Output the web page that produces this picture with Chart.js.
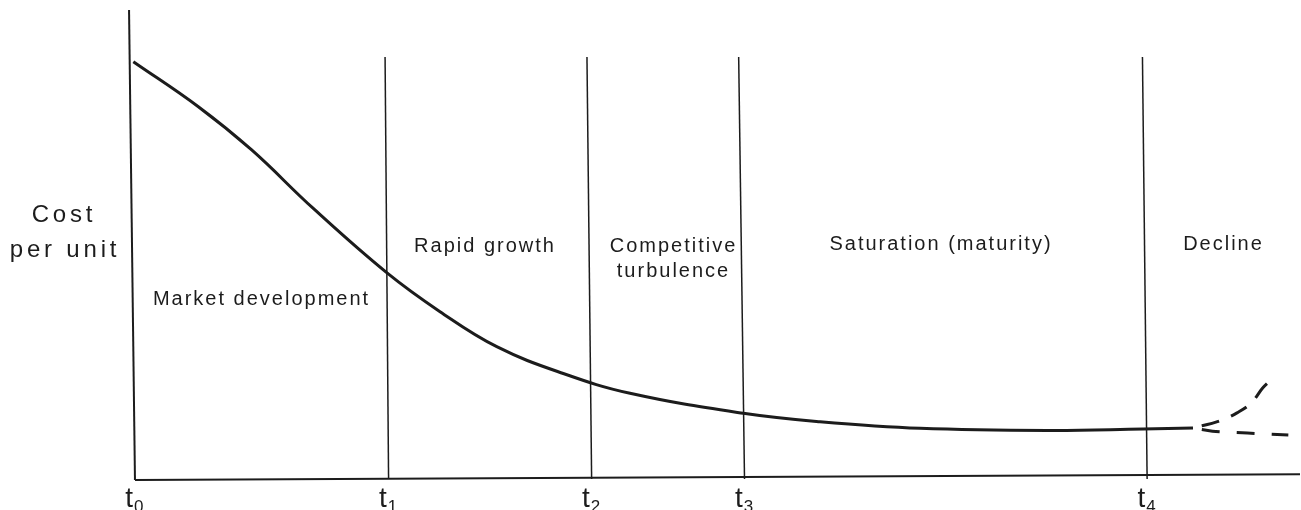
<!DOCTYPE html>
<html>
<head>
<meta charset="utf-8">
<script src="https://cdn.jsdelivr.net/npm/chart.js@4.4.1/dist/chart.umd.min.js"></script>
<style>
  html, body { margin: 0; padding: 0; background: #fff; }
  canvas { display: block; }
</style>
</head>
<body>
<canvas id="c" width="1301" height="510"></canvas>
<script>
// ---- data ----
const phaseNames = ['Market development', 'Rapid growth', 'Competitive\nturbulence', 'Saturation (maturity)', 'Decline'];
const tickLabels = ['0', '1', '2', '3', '4'];
const tickValues = [0.15, 21.9, 39.3, 52.4, 86.9];
const boundaryTopX = [21.6, 38.9, 51.9, 86.5];
const boundaryBottomX = [21.9, 39.3, 52.4, 86.9];
const boundaryTopY = 90;
const yAxisLabel = ['Cost', 'per unit'];

const costX = [0.03, 5.60, 10.17, 15.45, 21.74, 26.31, 31.17, 36.87, 42.59, 52.30, 58.87, 67.44, 78.58, 86.55, 90.83];
const costY = [88.98, 79.38, 70.15, 57.68, 43.99, 35.67, 28.21, 22.49, 18.27, 14.01, 12.22, 10.81, 10.34, 10.66, 10.87];
const riseX = [90.83, 93.15, 94.6, 95.9, 96.8, 97.5];
const riseY = [10.87, 12.4, 14.1, 16.4, 19.4, 21.1];
const fallX = [90.83, 92.5, 95.5, 99.0];
const fallY = [10.87, 10.2, 9.8, 9.4];

const zip = (xs, ys) => xs.map((x, i) => ({ x, y: ys[i] }));
const ink = '#1c1c1c';

const datasets = [];
// axes drawn as lines (the scan is slightly rotated)
datasets.push({ data: [{ x: -0.34, y: 100 }, { x: 0.17, y: -0.2 }], borderWidth: 2 });
datasets.push({ data: [{ x: 0.17, y: -0.2 }, { x: 100, y: 1.0 }], borderWidth: 2 });
boundaryTopX.forEach((tx, i) => {
  datasets.push({ data: [{ x: tx, y: boundaryTopY }, { x: boundaryBottomX[i], y: 0 }], borderWidth: 1.5 });
});
datasets.push({ data: zip(costX, costY), borderWidth: 3, tension: 0.4 });
datasets.push({ data: zip(riseX, riseY), borderWidth: 3, cubicInterpolationMode: 'monotone', borderDash: [18, 13], borderDashOffset: 22 });
datasets.push({ data: zip(fallX, fallY), borderWidth: 3, tension: 0.3, borderDash: [18, 17], borderDashOffset: 26 });
datasets.forEach(d => {
  d.borderColor = ink; d.pointRadius = 0; d.showLine = true; d.clip = false; d.fill = false;
  if (d.tension === undefined) d.tension = 0;
});

// label anchors (layout only): centre x and baseline y in pixels
const phaseLayout = [
  { x: 261.5, y: 305, lh: 0 },
  { x: 485, y: 252, lh: 0 },
  { x: 673.5, y: 252, lh: 25 },
  { x: 941, y: 250, lh: 0 },
  { x: 1223.5, y: 250, lh: 0 }
];

const FONT = '"Liberation Sans", Arial, Helvetica, sans-serif';
const textPlugin = {
  id: 'texts',
  afterDatasetsDraw(chart) {
    const ctx = chart.ctx;
    const xs = chart.scales.x;
    ctx.save();
    ctx.fillStyle = ink;
    ctx.textAlign = 'center';
    ctx.textBaseline = 'alphabetic';
    // y-axis title
    ctx.font = '24px ' + FONT;
    if ('letterSpacing' in ctx) ctx.letterSpacing = '3.8px';
    ctx.fillText(yAxisLabel[0], 64, 222);
    ctx.fillText(yAxisLabel[1], 65, 257);
    // phase names
    ctx.font = '20px ' + FONT;
    if ('letterSpacing' in ctx) ctx.letterSpacing = '2px';
    phaseNames.forEach((name, i) => {
      const lay = phaseLayout[i];
      name.split('\n').forEach((line, j) => {
        ctx.fillText(line, lay.x, lay.y + j * lay.lh);
      });
    });
    // tick labels: t with subscript
    if ('letterSpacing' in ctx) ctx.letterSpacing = '0px';
    ctx.textAlign = 'left';
    tickLabels.forEach((sub, i) => {
      const px = xs.getPixelForValue(tickValues[i]);
      ctx.font = '28px ' + FONT;
      const wt = ctx.measureText('t').width;
      ctx.font = '17px ' + FONT;
      const ws = ctx.measureText(sub).width;
      const left = px - (wt + ws) / 2 - 1;
      ctx.font = '28px ' + FONT;
      ctx.fillText('t', left, 507);
      ctx.font = '17px ' + FONT;
      ctx.fillText(sub, left + wt + 1, 512);
    });
    ctx.restore();
  }
};

new Chart(document.getElementById('c'), {
  type: 'scatter',
  data: { datasets },
  options: {
    responsive: false,
    devicePixelRatio: 1,
    animation: false,
    events: [],
    layout: { padding: { left: 133, right: 1, top: 10, bottom: 31 } },
    plugins: { legend: { display: false }, tooltip: { enabled: false } },
    scales: {
      x: { type: 'linear', min: 0, max: 100, display: false },
      y: { type: 'linear', min: 0, max: 100, display: false }
    }
  },
  plugins: [textPlugin]
});
</script>
</body>
</html>
